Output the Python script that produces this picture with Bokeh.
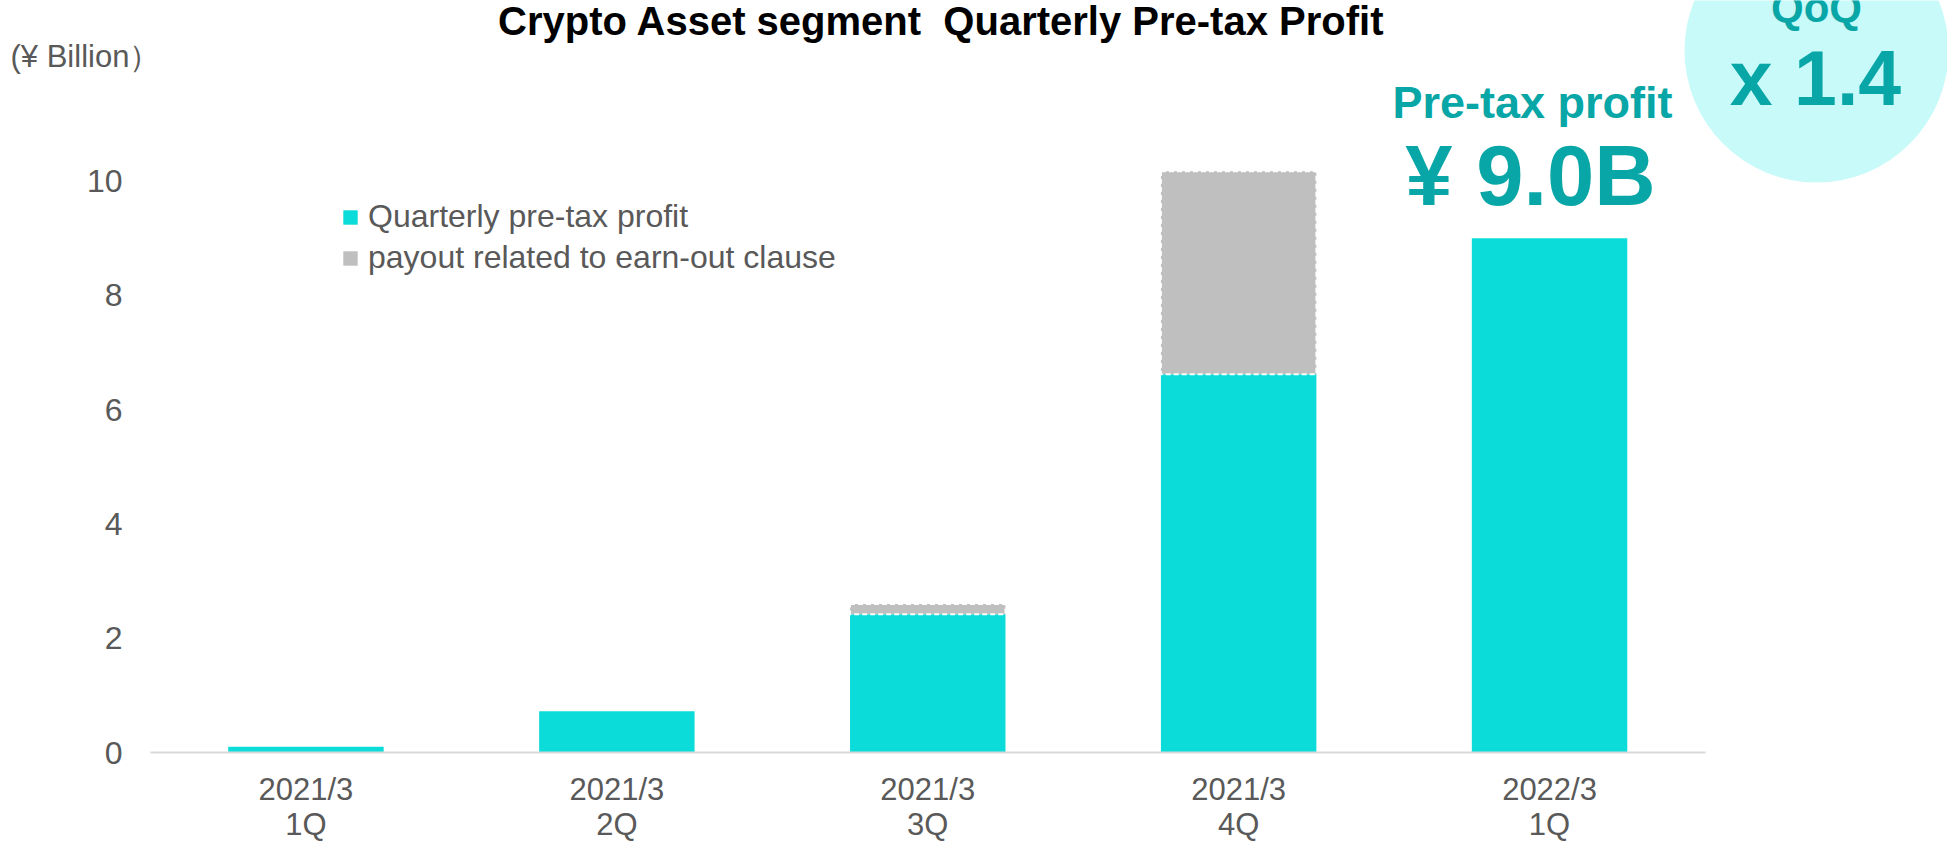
from bokeh.plotting import figure
from bokeh.models import Range1d, FixedTicker, Label, Legend, LegendItem, ColumnDataSource
from bokeh.embed import file_html
from bokeh.resources import INLINE

# ---------------- data ----------------
categories = ["2021/3\n1Q", "2021/3\n2Q", "2021/3\n3Q", "2021/3\n4Q", "2022/3\n1Q"]
pretax_profit = [0.1, 0.72, 2.42, 6.62, 9.0]
earnout_payout = [0.0, 0.0, 0.18, 3.55, 0.0]
y_ticks = [0, 2, 4, 6, 8, 10]
series_names = ["Quarterly pre-tax profit", "payout related to earn-out clause"]

title_text = "Crypto Asset segment\u00a0 Quarterly Pre-tax Profit"
unit_text = "(¥ Billion）"
headline_label = "Pre-tax profit"
headline_value = "¥ 9.0B"
qoq_label = "QoQ"
qoq_value = "x 1.4"

# ---------------- style ----------------
CYAN = "#0BDCDA"
GREY = "#BFBFBF"
TEAL = "#08A6A6"
CIRCLE = "#C8FAFA"
TEXT = "#595959"
FONT = "Liberation Sans"

W, H = 1947, 842
PAGE_L, PAGE_B = 0, H               # page coords of the frame's left / bottom edge
AXIS_X_PAGE, AXIS_Y_PAGE = 150, 752  # page coords of the plotting area origin
X_PX = 310.9     # px per category
Y_PX = 57.15     # px per unit

xs = list(range(1, len(categories) + 1))
stack_top = [a + b for a, b in zip(pretax_profit, earnout_payout)]
payout_alpha = [1.0 if v > 0 else 0.0 for v in earnout_payout]

src = ColumnDataSource(dict(x=xs, profit=pretax_profit, top=stack_top, la=payout_alpha))

x_axis_start = 0.5
x_start = x_axis_start - (AXIS_X_PAGE - PAGE_L) / X_PX
x_end = x_start + W / X_PX
y_start = -(PAGE_B - AXIS_Y_PAGE) / Y_PX
y_end = y_start + H / Y_PX

p = figure(width=W, height=H, output_backend="svg", toolbar_location=None,
           x_range=Range1d(x_start, x_end), y_range=Range1d(y_start, y_end),
           min_border_left=0, min_border_right=0, min_border_top=0,
           min_border_bottom=0)
p.outline_line_color = None
p.grid.visible = False
p.background_fill_color = "white"
p.border_fill_color = "white"


def sx(page_x):
    return page_x - PAGE_L


def sy(page_y):
    return PAGE_B - page_y


def dx(page_x):
    return x_start + (page_x - PAGE_L) / X_PX


def dy(page_y):
    return y_start + (PAGE_B - page_y) / Y_PX


# QoQ circle (decoration)
p.scatter(x=[dx(1816)], y=[dy(50)], size=264, marker="circle",
          fill_color=CIRCLE, line_color=None)

# bars
p.vbar(x="x", width=0.5, bottom=0, top="profit", source=src,
       fill_color=CYAN, line_color=None)
p.vbar(x="x", width=0.5, bottom="profit", top="top", source=src,
       fill_color=GREY, line_color="white", line_dash="5 3", line_width=2,
       line_alpha="la")

# axes (drawn inside the frame at fixed locations)
xa = p.xaxis[0]
xa.fixed_location = 0
xa.ticker = FixedTicker(ticks=xs)
xa.major_label_overrides = {x: c for x, c in zip(xs, categories)}
xa.bounds = (x_axis_start, x_axis_start + len(categories))
xa.axis_line_color = "#D9D9D9"
xa.axis_line_width = 2
xa.major_tick_line_color = None
xa.minor_tick_line_color = None
xa.major_tick_out = 0
xa.major_tick_in = 0
xa.major_label_text_font = FONT
xa.major_label_text_font_size = "31px"
xa.major_label_text_color = TEXT
xa.major_label_text_line_height = 1.02
xa.major_label_standoff = 19

ya = p.yaxis[0]
ya.fixed_location = x_axis_start
ya.ticker = FixedTicker(ticks=y_ticks)
ya.axis_line_color = None
ya.major_tick_line_color = None
ya.minor_tick_line_color = None
ya.major_tick_out = 0
ya.major_tick_in = 0
ya.major_label_text_font = FONT
ya.major_label_text_font_size = "32px"
ya.major_label_text_color = TEXT
ya.major_label_standoff = 28

# legend (square swatches)
r1 = p.scatter(x=xs, y=pretax_profit, size=0, marker="square",
               fill_color=CYAN, line_alpha=0)
r2 = p.scatter(x=xs, y=stack_top, size=0, marker="square",
               fill_color=GREY, line_alpha=0)
legend = Legend(items=[LegendItem(label=series_names[0], renderers=[r1]),
                       LegendItem(label=series_names[1], renderers=[r2])],
                location=(sx(332), sy(277.8)),
                glyph_width=36, glyph_height=40, label_height=40,
                spacing=1, label_standoff=0, padding=0, margin=0,
                border_line_alpha=0, background_fill_alpha=0,
                label_text_font=FONT, label_text_font_size="32px",
                label_text_color=TEXT)
p.add_layout(legend)


def add_label(px_, py_mid, text, size, color, bold=False, align="center"):
    # py_mid: page y of the middle of the capital letters
    p.add_layout(Label(x=sx(px_), y=sy(py_mid), x_units="screen", y_units="screen",
                       text=text, text_font=FONT, text_font_size=size,
                       text_font_style="bold" if bold else "normal",
                       text_color=color, text_align=align,
                       text_baseline="middle"))


add_label(941, 20.5, title_text, "40px", "black", bold=True)
add_label(10, 56, unit_text, "31px", TEXT, align="left")
add_label(1532, 102, headline_label, "45px", TEAL, bold=True)
add_label(1530, 175, headline_value, "85px", TEAL, bold=True)
add_label(1816, 7, qoq_label, "42px", TEAL, bold=True)
add_label(1815, 77.5, qoq_value, "77px", TEAL, bold=True)

open("out.html", "w").write(file_html(p, INLINE))
